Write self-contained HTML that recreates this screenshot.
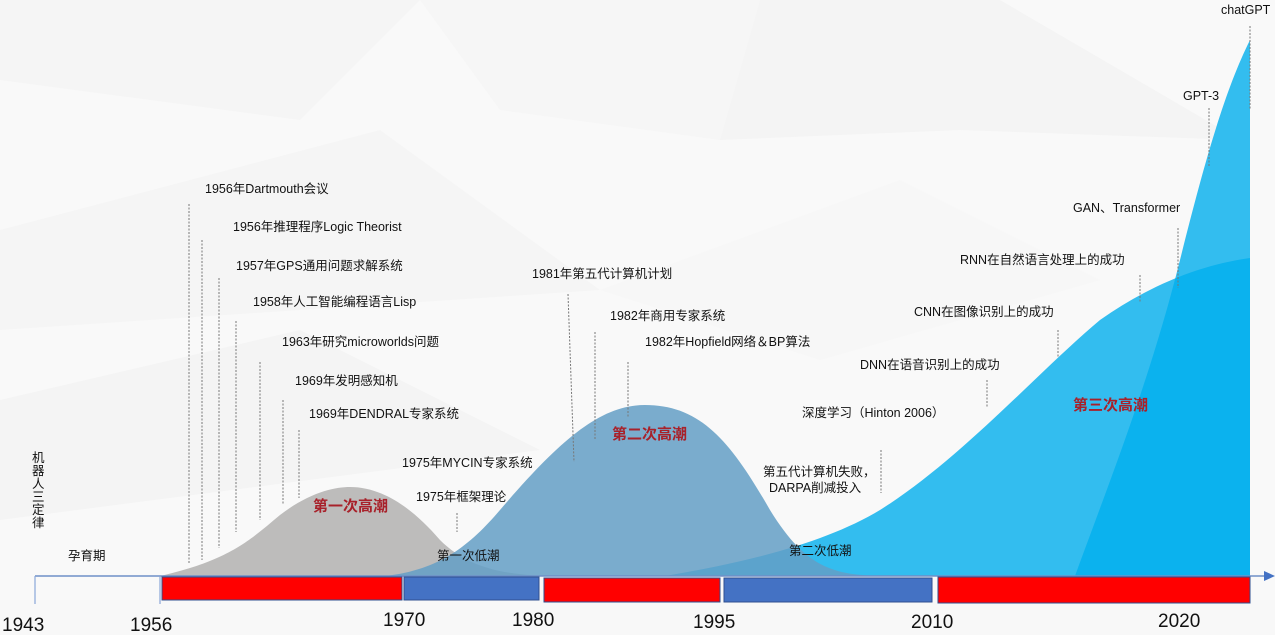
<!DOCTYPE html>
<html><head><meta charset="utf-8"><style>
html,body{margin:0;padding:0;background:#fafafa;}
svg{display:block;font-family:"Liberation Sans","Noto Sans CJK SC",sans-serif;}
.t{font-size:12.5px;fill:#111;}
.r{font-size:15px;fill:#a8212a;font-weight:bold;}
.y{font-size:19px;fill:#111;}
.l{stroke:#777;stroke-width:1;stroke-dasharray:2,1.5;}
</style></head><body>
<svg width="1275" height="635" viewBox="0 0 1275 635" xmlns="http://www.w3.org/2000/svg">
<rect width="1275" height="635" fill="#f9f9f9"/>
<polygon points="0,0 420,0 300,120 0,80" fill="#f5f5f5"/>
<polygon points="420,0 760,0 720,140 500,110" fill="#f6f6f6"/>
<polygon points="0,230 380,130 600,290 0,330" fill="#f5f5f5"/>
<polygon points="760,0 1000,0 1240,140 960,130 720,140" fill="#f4f4f4"/>
<polygon points="600,290 900,180 1100,280 820,360" fill="#f7f7f7"/>
<polygon points="0,400 300,330 540,450 0,520" fill="#f4f4f4"/>
<rect x="0" y="600" width="1275" height="35" fill="#f8f8f8"/>

<!-- third wave broad -->
<path d="M665,576 C760,560 830,540 880,510 C960,460 1040,370 1100,320 C1150,285 1200,265 1250,258 L1250,576 Z" fill="#33bdef"/>
<!-- steep -->
<path d="M1075,576 C1110,480 1150,380 1180,260 C1205,160 1225,90 1250,40 L1250,576 Z" fill="#33bdef"/>
<defs><clipPath id="c"><path d="M1075,576 C1110,480 1150,380 1180,260 C1205,160 1225,90 1250,40 L1250,576 Z"/></clipPath></defs>
<path clip-path="url(#c)" d="M665,576 C760,560 830,540 880,510 C960,460 1040,370 1100,320 C1150,285 1200,265 1250,258 L1250,576 Z" fill="#0bb2ee"/>
<!-- first wave -->
<path d="M160,576 C230,560 250,540 280,515 C310,492 335,487 350,487 C380,487 410,505 440,540 C470,570 510,576 560,576 Z" fill="#bdbcbb"/>
<!-- second wave -->
<path d="M385,576 C440,570 470,545 500,510 C560,440 600,405 645,405 C700,405 730,440 770,510 C810,575 840,576 900,576 Z" fill="#649fc6" fill-opacity="0.85"/>

<!-- axis -->
<line x1="35" y1="576" x2="1266" y2="576" stroke="#6f8fc8" stroke-width="1.5"/>
<polygon points="1275,576 1264,571 1264,581" fill="#4472c4"/>
<line x1="35" y1="576" x2="35" y2="604" stroke="#8aa6d8" stroke-width="1.2"/>
<line x1="160" y1="576" x2="160" y2="604" stroke="#8aa6d8" stroke-width="1.2"/>
<rect x="162" y="577" width="240" height="23" fill="#ff0000" stroke="#2f4f8f" stroke-width="1"/>
<rect x="404" y="577" width="135" height="23" fill="#4472c4" stroke="#2f4f8f" stroke-width="1"/>
<rect x="544" y="578" width="176" height="24" fill="#ff0000" stroke="#2f4f8f" stroke-width="1"/>
<rect x="724" y="578" width="208" height="24" fill="#4472c4" stroke="#2f4f8f" stroke-width="1"/>
<rect x="938" y="577" width="312" height="26" fill="#ff0000" stroke="#2f4f8f" stroke-width="1"/>

<!-- leader lines -->
<line class="l" x1="189" y1="204" x2="189" y2="563"/>
<line class="l" x1="202" y1="240" x2="202" y2="560"/>
<line class="l" x1="219" y1="278" x2="219" y2="548"/>
<line class="l" x1="236" y1="321" x2="236" y2="532"/>
<line class="l" x1="260" y1="362" x2="260" y2="520"/>
<line class="l" x1="283" y1="400" x2="283" y2="505"/>
<line class="l" x1="299" y1="430" x2="299" y2="498"/>
<line class="l" x1="457" y1="513" x2="457" y2="532"/>
<line class="l" x1="568" y1="294" x2="574" y2="462"/>
<line class="l" x1="595" y1="332" x2="595" y2="440"/>
<line class="l" x1="628" y1="362" x2="628" y2="418"/>
<line class="l" x1="881" y1="450" x2="881" y2="493"/>
<line class="l" x1="987" y1="380" x2="987" y2="408"/>
<line class="l" x1="1058" y1="330" x2="1058" y2="358"/>
<line class="l" x1="1140" y1="275" x2="1140" y2="303"/>
<line class="l" x1="1178" y1="228" x2="1178" y2="288"/>
<line class="l" x1="1209" y1="108" x2="1209" y2="167"/>
<line class="l" x1="1250" y1="26" x2="1250" y2="110"/>

<!-- labels -->
<text class="t" x="205" y="193">1956年Dartmouth会议</text>
<text class="t" x="233" y="231">1956年推理程序Logic Theorist</text>
<text class="t" x="236" y="270">1957年GPS通用问题求解系统</text>
<text class="t" x="253" y="306">1958年人工智能编程语言Lisp</text>
<text class="t" x="282" y="346">1963年研究microworlds问题</text>
<text class="t" x="295" y="385">1969年发明感知机</text>
<text class="t" x="309" y="418">1969年DENDRAL专家系统</text>
<text class="t" x="402" y="467">1975年MYCIN专家系统</text>
<text class="t" x="416" y="501">1975年框架理论</text>
<text class="r" x="313" y="511">第一次高潮</text>
<text class="t" x="437" y="560">第一次低潮</text>
<text class="t" x="68" y="560">孕育期</text>
<text class="t" x="32" y="462">机</text>
<text class="t" x="32" y="475">器</text>
<text class="t" x="32" y="488">人</text>
<text class="t" x="32" y="501">三</text>
<text class="t" x="32" y="514">定</text>
<text class="t" x="32" y="527">律</text>
<text class="t" x="532" y="278">1981年第五代计算机计划</text>
<text class="t" x="610" y="320">1982年商用专家系统</text>
<text class="t" x="645" y="346">1982年Hopfield网络＆BP算法</text>
<text class="r" x="612" y="439">第二次高潮</text>
<text class="t" x="802" y="417">深度学习（Hinton 2006）</text>
<text class="t" x="763" y="476">第五代计算机失败，</text>
<text class="t" x="769" y="492">DARPA削减投入</text>
<text class="t" x="789" y="555">第二次低潮</text>
<text class="t" x="860" y="369">DNN在语音识别上的成功</text>
<text class="t" x="914" y="316">CNN在图像识别上的成功</text>
<text class="t" x="960" y="264">RNN在自然语言处理上的成功</text>
<text class="t" x="1073" y="212">GAN、Transformer</text>
<text class="t" x="1183" y="100">GPT-3</text>
<text class="t" x="1221" y="14">chatGPT</text>
<text class="r" x="1073" y="410">第三次高潮</text>

<text class="y" x="2" y="631">1943</text>
<text class="y" x="130" y="631">1956</text>
<text class="y" x="383" y="626">1970</text>
<text class="y" x="512" y="626">1980</text>
<text class="y" x="693" y="628">1995</text>
<text class="y" x="911" y="628">2010</text>
<text class="y" x="1158" y="627">2020</text>
</svg>
</body></html>
